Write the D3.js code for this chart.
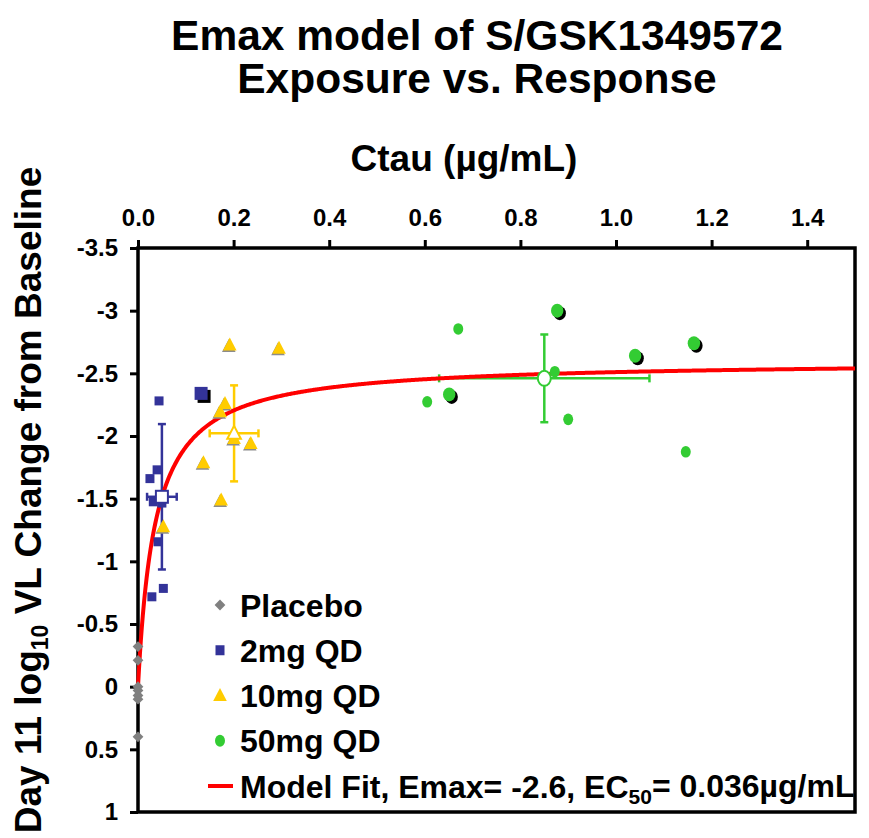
<!DOCTYPE html>
<html lang="en">
<head>
<meta charset="UTF-8">
<title>Emax model of S/GSK1349572</title>
<script src="https://d3js.org/d3.v7.min.js"></script>
<style>
  body { margin: 0; background: #fff; }
  text { font-family: Arial, "Liberation Sans", Helvetica, sans-serif; font-weight: bold; fill: #000; }
</style>
</head>
<body>
<svg id="chart" width="869" height="838"></svg>
<script>
// values: [Ctau ug/mL, day 11 log10 VL change]
const placebo = [[0, -0.32], [0, -0.21], [0, 0.0], [0, 0.03], [0, 0.07], [0, 0.10], [0, 0.40]];
const dose2 = [[0.044, -2.28], [0.040, -1.73], [0.025, -1.66], [0.032, -1.475], [0.050, -1.465],
               [0.042, -1.156], [0.053, -0.784], [0.029, -0.717]];
const dose2B = [[0.132, -2.34]];            // second subject set (drop shadow in source)
const dose10 = [[0.192, -2.726], [0.295, -2.70], [0.182, -2.26], [0.172, -2.194], [0.201, -1.98],
                [0.236, -1.94], [0.137, -1.787], [0.174, -1.489], [0.053, -1.276]];
const dose50 = [[0.670, -2.854], [0.605, -2.273], [0.872, -2.513], [0.900, -2.133], [1.146, -1.874]];
const dose50B = [[0.877, -3.00], [1.040, -2.64], [1.163, -2.74], [0.651, -2.332]];

// group mean +/- SD
const meanGroups = ["2mg QD", "10mg QD", "50mg QD"];
const meanX = [0.050, 0.201, 0.850];
const meanY = [-1.515, -2.021, -2.46];
const sdX = [0.031, 0.051, 0.22];
const sdY = [0.58, 0.383, 0.35];

// Emax model fit
const emax = -2.6, ec50 = 0.036;

const xTicks = [0, 0.2, 0.4, 0.6, 0.8, 1.0, 1.2, 1.4];
const yTicks = [-3.5, -3, -2.5, -2, -1.5, -1, -0.5, 0, 0.5, 1];
const legendLabels = ["Placebo", "2mg QD", "10mg QD", "50mg QD"];

const colors = { placebo: "#808080", d2: "#333399", d10: "#FFCC00", d50: "#33CC33", fit: "#FF0000" };
const groupColors = [colors.d2, colors.d10, colors.d50];

const svg = d3.select("#chart");
const mLeft = 138, mRight = 855, mTop = 248, mBottom = 812;

const x = d3.scaleLinear().domain([0, 1.5]).range([mLeft, mRight]);
const y = d3.scaleLinear().domain([-3.5, 1]).range([mTop, mBottom]);

// titles
svg.append("text").attr("x", 477).attr("y", 50).attr("text-anchor", "middle")
  .style("font-size", "42.5px").text("Emax model of S/GSK1349572");
svg.append("text").attr("x", 477).attr("y", 93).attr("text-anchor", "middle")
  .style("font-size", "42.5px").text("Exposure vs. Response");

svg.append("text").attr("x", 464).attr("y", 171).attr("text-anchor", "middle")
  .style("font-size", "37px").text("Ctau (µg/mL)");

const yl = svg.append("text")
  .attr("transform", "translate(41,500) rotate(-90)")
  .attr("text-anchor", "middle")
  .style("font-size", "37px");
yl.append("tspan").text("Day 11 log");
yl.append("tspan").attr("dy", "0.3em").style("font-size", "23px").text("10");
yl.append("tspan").attr("dy", "-0.2em").text(" VL Change from Baseline");

// axes
const xAxis = svg.append("g")
  .attr("transform", `translate(0,${mTop})`)
  .call(d3.axisTop(x).tickValues(xTicks).tickFormat(d => d.toFixed(1))
    .tickSize(8).tickSizeOuter(0).tickPadding(14));
const yAxis = svg.append("g")
  .attr("transform", `translate(${mLeft},0)`)
  .call(d3.axisLeft(y).tickValues(yTicks).tickFormat(d => String(d))
    .tickSize(8).tickSizeOuter(0).tickPadding(12));
[xAxis, yAxis].forEach(g => {
  g.select(".domain").remove();
  g.selectAll(".tick line").attr("stroke", "#000").attr("stroke-width", 3);
  g.selectAll(".tick text").style("font-size", "24px")
    .style("font-family", "Arial, 'Liberation Sans', sans-serif").style("font-weight", "bold");
});

// frame
svg.append("rect").attr("x", mLeft).attr("y", mTop)
  .attr("width", mRight - mLeft).attr("height", mBottom - mTop)
  .attr("fill", "none").attr("stroke", "#000").attr("stroke-width", 3.5);

const plot = svg.append("g");

// error bars
meanGroups.forEach((g, i) => {
  const c = groupColors[i];
  const eb = plot.append("g").attr("stroke", c).attr("stroke-width", 2.5).attr("fill", "none");
  const cx = x(meanX[i]), cy = y(meanY[i]);
  const y1 = y(meanY[i] - sdY[i]), y2 = y(meanY[i] + sdY[i]);
  const x1 = x(meanX[i] - sdX[i]), x2 = x(meanX[i] + sdX[i]);
  eb.append("line").attr("x1", cx).attr("x2", cx).attr("y1", y1).attr("y2", y2);
  eb.append("line").attr("x1", cx - 4).attr("x2", cx + 4).attr("y1", y1).attr("y2", y1);
  eb.append("line").attr("x1", cx - 4).attr("x2", cx + 4).attr("y1", y2).attr("y2", y2);
  eb.append("line").attr("x1", x1).attr("x2", x2).attr("y1", cy).attr("y2", cy);
  eb.append("line").attr("x1", x1).attr("x2", x1).attr("y1", cy - 4).attr("y2", cy + 4);
  eb.append("line").attr("x1", x2).attr("x2", x2).attr("y1", cy - 4).attr("y2", cy + 4);
});

// model fit curve
const fitX = d3.range(0, 1.5001, 0.002);
plot.append("path")
  .datum(fitX)
  .attr("fill", "none").attr("stroke", colors.fit).attr("stroke-width", 4)
  .attr("d", d3.line().x(d => x(d)).y(d => y(emax * d / (ec50 + d))));

// marker helpers
const diamond = d3.symbol(d3.symbolSquare, 58)();
const tri = "M0,-7.5L6.8,5.5L-6.8,5.5Z";

function drawDiamonds(g, data, col) {
  g.selectAll(null).data(data).join("path")
    .attr("d", diamond)
    .attr("transform", d => `translate(${x(d[0])},${y(d[1])}) rotate(45)`)
    .attr("fill", col);
}
function drawSquares(g, data, col, s, shadow) {
  if (shadow) {
    g.selectAll(null).data(data).join("rect")
      .attr("x", d => x(d[0]) - s / 2 + 3).attr("y", d => y(d[1]) - s / 2 + 3)
      .attr("width", s).attr("height", s).attr("fill", "#000");
  }
  g.selectAll(null).data(data).join("rect")
    .attr("x", d => x(d[0]) - s / 2).attr("y", d => y(d[1]) - s / 2)
    .attr("width", s).attr("height", s).attr("fill", col);
}
function drawTriangles(g, data, col) {
  g.selectAll(null).data(data).join("path")
    .attr("d", tri)
    .attr("transform", d => `translate(${x(d[0]) - 1},${y(d[1]) + 1.5})`)
    .attr("fill", "#8c8c8c");
  g.selectAll(null).data(data).join("path")
    .attr("d", tri)
    .attr("transform", d => `translate(${x(d[0])},${y(d[1])})`)
    .attr("fill", col);
}
function drawCircles(g, data, col, rx, ry, shadow) {
  if (shadow) {
    g.selectAll(null).data(data).join("ellipse")
      .attr("cx", d => x(d[0]) + 2.5).attr("cy", d => y(d[1]) + 2.5)
      .attr("rx", rx).attr("ry", ry).attr("fill", "#000");
  }
  g.selectAll(null).data(data).join("ellipse")
    .attr("cx", d => x(d[0])).attr("cy", d => y(d[1]))
    .attr("rx", rx).attr("ry", ry).attr("fill", col);
}

drawDiamonds(plot.append("g"), placebo, colors.placebo);
drawSquares(plot.append("g"), dose2, colors.d2, 9, false);
drawSquares(plot.append("g"), dose2B, colors.d2, 13, true);
drawTriangles(plot.append("g"), dose10, colors.d10);
drawCircles(plot.append("g"), dose50, colors.d50, 5, 5.8, false);
drawCircles(plot.append("g"), dose50B, colors.d50, 6.2, 7, true);

// group means (open markers)
const mg = plot.append("g").attr("fill", "#fff").attr("stroke-width", 2);
mg.append("rect")
  .attr("x", x(meanX[0]) - 6).attr("y", y(meanY[0]) - 6).attr("width", 12).attr("height", 12)
  .attr("stroke", groupColors[0]);
mg.append("path").attr("d", tri)
  .attr("transform", `translate(${x(meanX[1])},${y(meanY[1])})`)
  .attr("stroke", groupColors[1]);
mg.append("ellipse")
  .attr("cx", x(meanX[2])).attr("cy", y(meanY[2])).attr("rx", 6.5).attr("ry", 7.5)
  .attr("stroke", groupColors[2]);

// legend
const legY = d3.scaleLinear().domain([0, 4]).range([605, 786]);
const leg = svg.append("g");
const lx = 220;
leg.append("path").attr("d", diamond)
  .attr("transform", `translate(${lx},${legY(0)}) rotate(45)`).attr("fill", colors.placebo);
leg.append("rect").attr("x", lx - 4.5).attr("y", legY(1) - 5).attr("width", 9).attr("height", 10)
  .attr("fill", colors.d2);
leg.append("path").attr("d", tri).attr("transform", `translate(${lx},${legY(2)})`)
  .attr("fill", colors.d10);
leg.append("ellipse").attr("cx", lx).attr("cy", legY(3)).attr("rx", 5).attr("ry", 6)
  .attr("fill", colors.d50);
leg.append("line").attr("x1", 208).attr("x2", 233).attr("y1", legY(4)).attr("y2", legY(4))
  .attr("stroke", colors.fit).attr("stroke-width", 4);

legendLabels.forEach((t, i) => {
  leg.append("text").attr("x", 240).attr("y", legY(i)).attr("dy", "0.36em")
    .style("font-size", "32px").text(t);
});
const fitLabel = leg.append("text").attr("x", 240).attr("y", legY(4)).attr("dy", "0.36em")
  .style("font-size", "32px");
fitLabel.append("tspan").text(`Model Fit, Emax= ${emax}, EC`);
fitLabel.append("tspan").attr("dy", "0.3em").style("font-size", "21px").text("50");
fitLabel.append("tspan").attr("dy", "-0.2em").text(`= ${ec50}µg/mL`);
</script>
</body>
</html>
